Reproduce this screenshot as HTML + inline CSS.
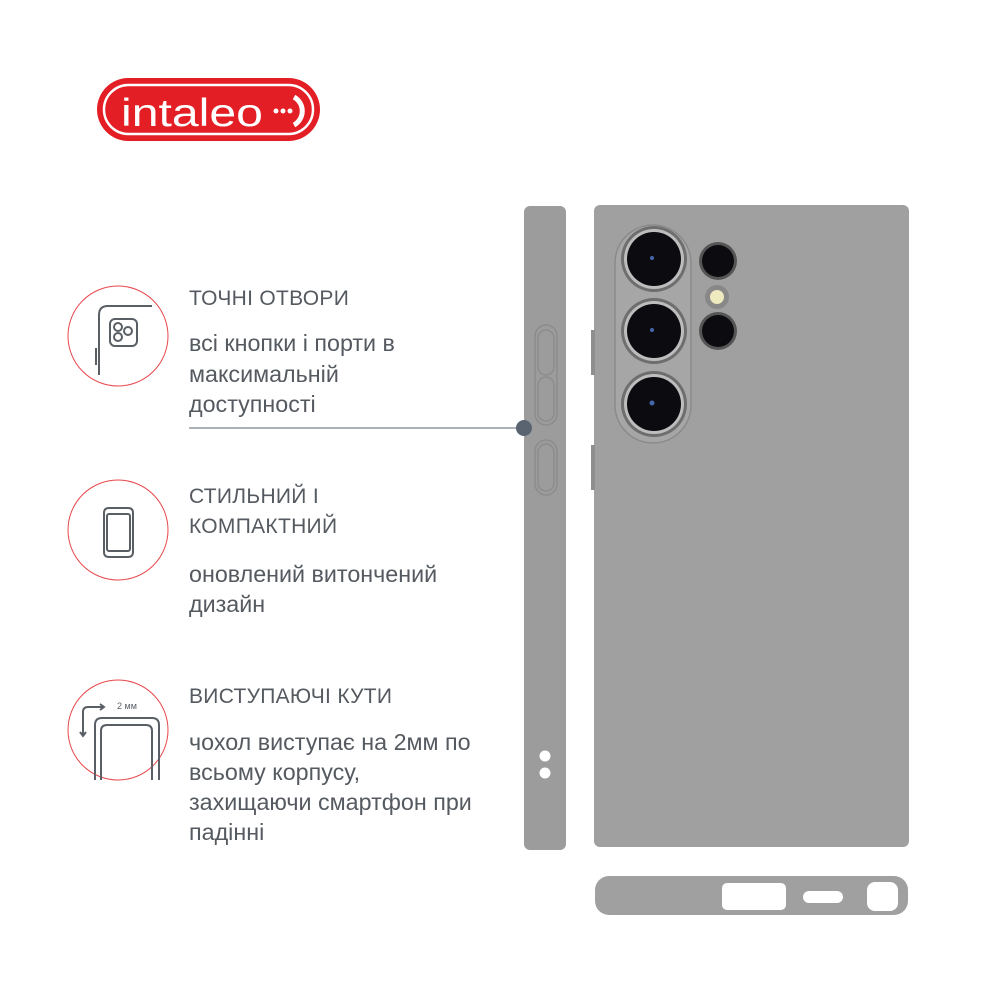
<!DOCTYPE html>
<html><head><meta charset="utf-8"><style>
body{margin:0;width:1000px;height:1000px;background:#fff;position:relative;overflow:hidden;font-family:"Liberation Sans",sans-serif}
.t{position:absolute;left:189px;color:#555a60;font-size:21px;line-height:30px;white-space:nowrap}
.b{font-size:23.3px}
.h{letter-spacing:0.3px}
</style></head><body>
<svg width="1000" height="1000" style="position:absolute;left:0;top:0">
<rect x="97" y="78" width="223" height="63" rx="31.5" fill="#e31e24"/>
<rect x="104" y="85" width="209" height="49" rx="24.5" fill="none" stroke="#fff" stroke-width="2.5"/>
<text x="121" y="126" font-family="Liberation Sans" font-size="39" fill="#fff" textLength="142" lengthAdjust="spacingAndGlyphs">intaleo</text>
<circle cx="276" cy="111" r="2.5" fill="#fff"/><circle cx="283" cy="111" r="2.5" fill="#fff"/><circle cx="290" cy="111" r="2.5" fill="#fff"/>
<path d="M294 97 A16 16 0 0 1 294 125" fill="none" stroke="#fff" stroke-width="5"/>
<circle cx="118" cy="336" r="50" fill="none" stroke="#e8474c" stroke-width="1"/>
<circle cx="118" cy="530" r="50" fill="none" stroke="#e8474c" stroke-width="1"/>
<circle cx="118" cy="730" r="50" fill="none" stroke="#e8474c" stroke-width="1"/>
<g stroke="#5a5f66" stroke-width="2" fill="none">
<path d="M99 375 V315 Q99 306 108 306 H152"/><path d="M96 348 V365"/>
<rect x="110" y="319" width="27" height="27" rx="5"/>
<circle cx="118" cy="327" r="4"/><circle cx="128" cy="331" r="4"/><circle cx="118" cy="337" r="4"/>
<path d="M104 513 Q104 508 109 508 H128 Q133 508 133 513 V552 Q133 557 128 557 H109 Q104 557 104 552Z"/>
<rect x="107" y="514" width="23" height="37" rx="2"/>
<path d="M95 780 V725 Q95 718 102 718 H152 Q159 718 159 725 V780"/>
<path d="M101 780 V731 Q101 725 107 725 H146 Q152 725 152 731 V780"/>
<path d="M83 735 V712 Q83 707 88 707 H104"/><path d="M100 704 L104 707 L100 710"/><path d="M80 732 L83 736 L86 732"/>
</g>
<text x="117" y="709" font-family="Liberation Sans" font-size="9" fill="#5a5f66">2 мм</text>
<line x1="189" y1="428" x2="524" y2="428" stroke="#5a6470" stroke-width="1"/>
<rect x="524" y="206" width="42" height="644" rx="6" fill="#9c9c9c"/>
<g fill="none" stroke="#8c8c8c" stroke-width="1.5">
<rect x="535" y="325" width="22" height="100" rx="11"/>
<rect x="538" y="330" width="16" height="45" rx="8"/><rect x="538" y="377" width="16" height="44" rx="8"/>
<rect x="535" y="440" width="22" height="55" rx="11"/><rect x="538" y="444" width="16" height="47" rx="8"/>
</g>
<circle cx="524" cy="428" r="8" fill="#5a6470"/>
<circle cx="545" cy="756" r="5.5" fill="#fff"/><circle cx="545" cy="773" r="5.5" fill="#fff"/>
<rect x="594" y="205" width="315" height="642" rx="6" fill="#a0a0a0"/>
<rect x="591" y="330" width="4" height="45" fill="#8e8e8e"/><rect x="591" y="445" width="4" height="45" fill="#8e8e8e"/>
<rect x="615" y="225" width="76" height="218" rx="38" fill="#a6a6a6" stroke="#8a8a8a" stroke-width="1.5"/>
<g>
<circle cx="654" cy="259" r="33" fill="#6e6e6e"/><circle cx="654" cy="259" r="30" fill="#bdbdbd"/><circle cx="654" cy="259" r="27" fill="#0c0c10"/>
<circle cx="654" cy="331" r="33" fill="#6e6e6e"/><circle cx="654" cy="331" r="30" fill="#bdbdbd"/><circle cx="654" cy="331" r="27" fill="#0c0c10"/>
<circle cx="654" cy="404" r="33" fill="#6e6e6e"/><circle cx="654" cy="404" r="30" fill="#bdbdbd"/><circle cx="654" cy="404" r="27" fill="#0c0c10"/>
<circle cx="718" cy="261" r="19" fill="#555"/><circle cx="718" cy="261" r="16" fill="#0c0c10"/>
<circle cx="717" cy="297" r="12" fill="#888"/><circle cx="717" cy="297" r="7" fill="#efe9c0"/>
<circle cx="718" cy="331" r="19" fill="#555"/><circle cx="718" cy="331" r="16" fill="#0c0c10"/>
<circle cx="652" cy="258" r="2" fill="#46a"/><circle cx="652" cy="330" r="2" fill="#46a"/><circle cx="652" cy="403" r="2.5" fill="#46a"/>
</g>
<rect x="595" y="876" width="313" height="39" rx="14" fill="#a0a0a0"/>
<rect x="722" y="883" width="64" height="27" rx="5" fill="#fff"/>
<rect x="803" y="891" width="40" height="12" rx="6" fill="#fff"/>
<rect x="867" y="882" width="31" height="29" rx="8" fill="#fff"/>
</svg>
<div class="t h" style="top:284px">ТОЧНІ ОТВОРИ</div>
<div class="t b" style="top:328px;line-height:30.5px">всі кнопки і порти в<br>максимальній<br>доступності</div>
<div class="t h" style="top:482px">СТИЛЬНИЙ І<br>КОМПАКТНИЙ</div>
<div class="t b" style="top:559px">оновлений витончений<br>дизайн</div>
<div class="t h" style="top:682px">ВИСТУПАЮЧІ КУТИ</div>
<div class="t b" style="top:727px">чохол виступає на 2мм по<br>всьому корпусу,<br>захищаючи смартфон при<br>падінні</div>
</body></html>
